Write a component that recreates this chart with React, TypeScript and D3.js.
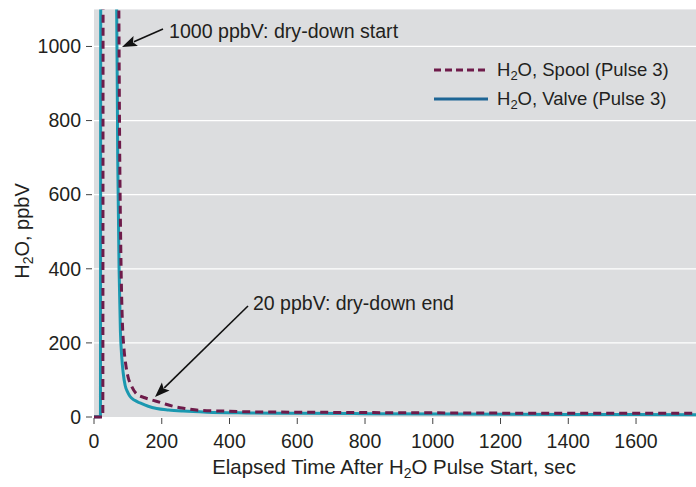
import React from "react";
import * as d3 from "d3";

const xTicks = [0, 200, 400, 600, 800, 1000, 1200, 1400, 1600];
const yTicks = [0, 200, 400, 600, 800, 1000];

const valveTime = [0, 19, 20, 66, 70, 74, 78, 82, 86, 92, 100, 106, 120, 136, 160, 185, 220, 263, 333, 450, 600, 800, 1050, 1400, 1777];
const valveH2O = [1, 1, 1200, 1200, 700, 400, 230, 160, 120, 85, 66, 56, 45, 38, 29, 23, 19, 16, 13, 11, 10, 9, 8, 7, 6];

const spoolTime = [0, 26, 27, 72, 76, 80, 84, 88, 94, 100, 110, 126, 150, 175, 200, 233, 270, 313, 380, 450, 600, 800, 1050, 1400, 1777];
const spoolH2O = [0, 0, 1200, 1200, 700, 400, 250, 190, 140, 110, 85, 62, 52, 45, 38, 29, 23, 18, 16, 14, 13, 12, 11, 10, 10];

const W = 696;
const H = 487;
const L = 94, R = 696, T = 9.4, B = 417;
const FONT = "'Liberation Sans', Arial, Helvetica, sans-serif";
const TXT = "#231f20";

function H2O({ sub = 13 }: { sub?: number }) {
  return (
    <>
      H<tspan fontSize={sub} dy={4}>2</tspan><tspan dy={-4}>O</tspan>
    </>
  );
}

export default function App() {
  const x = d3.scaleLinear().domain([0, 1777]).range([L, R]);
  const y = d3.scaleLinear().domain([0, 1100]).range([B, T]);
  const line = d3
    .line<[number, number]>()
    .x((d) => x(d[0]))
    .y((d) => y(d[1]))
    .curve(d3.curveMonotoneX);
  const valvePts = valveTime.map((t, i) => [t, valveH2O[i]] as [number, number]);
  const spoolPts = spoolTime.map((t, i) => [t, spoolH2O[i]] as [number, number]);

  const arrow = (x1: number, y1: number, x2: number, y2: number) => {
    const a = Math.atan2(y2 - y1, x2 - x1);
    const len = 15, w = 5.5;
    const bx = x2 - len * Math.cos(a), by = y2 - len * Math.sin(a);
    const px = -Math.sin(a) * w, py = Math.cos(a) * w;
    return (
      <g>
        <line x1={x1} y1={y1} x2={bx + 2 * Math.cos(a)} y2={by + 2 * Math.sin(a)} stroke="#111" strokeWidth={1.6} />
        <path d={`M${x2},${y2}L${bx + px},${by + py}L${bx + 3 * Math.cos(a)},${by + 3 * Math.sin(a)}L${bx - px},${by - py}Z`} fill="#111" />
      </g>
    );
  };

  return (
    <svg width={W} height={H} style={{ position: "absolute", left: 0, top: 0, background: "#fff" }} fontFamily={FONT}>
      <defs>
        <clipPath id="plotclip">
          <rect x={L} y={T} width={R - L} height={B - T + 2} />
        </clipPath>
      </defs>
      <rect x={L} y={T} width={R - L} height={B - T} fill="#dcdddf" />
      {yTicks.filter((v) => v > 0).map((v) => (
        <line key={v} x1={L} x2={R} y1={y(v)} y2={y(v)} stroke="#fff" strokeWidth={1.2} />
      ))}
      {yTicks.map((v) => (
        <g key={"yt" + v}>
          <line x1={86} x2={92} y1={y(v)} y2={y(v)} stroke="#444" strokeWidth={1} />
          <text x={81} y={y(v)} dy="0.35em" textAnchor="end" fontSize={19.5} fill={TXT}>{v}</text>
        </g>
      ))}
      {xTicks.map((v) => (
        <g key={"xt" + v}>
          <line x1={x(v)} x2={x(v)} y1={418} y2={424} stroke="#444" strokeWidth={1} />
          <text x={x(v)} y={448} textAnchor="middle" fontSize={19.5} fill={TXT}>{v}</text>
        </g>
      ))}
      <g clipPath="url(#plotclip)">
        <path d={line(valvePts) || ""} fill="none" stroke="#1b98b0" strokeWidth={3} />
        <path d={line(spoolPts) || ""} fill="none" stroke="#6e1b4a" strokeWidth={3} strokeDasharray="8,5" />
      </g>
      {arrow(163, 29, 122, 47)}
      {arrow(248, 306, 155, 397)}
      <text x={169} y={38} fontSize={19.6} fill={TXT}>1000 ppbV: dry-down start</text>
      <text x={253} y={310} fontSize={19.5} fill={TXT}>20 ppbV: dry-down end</text>
      <line x1={434} x2={488} y1={70} y2={70} stroke="#6e1b4a" strokeWidth={3} strokeDasharray="7,4" />
      <text x={497} y={76} fontSize={18.5} fill={TXT}><H2O sub={13} />, Spool (Pulse 3)</text>
      <line x1={434} x2={488} y1={99} y2={99} stroke="#1d6595" strokeWidth={3} />
      <text x={497} y={105} fontSize={18.5} fill={TXT}><H2O sub={13} />, Valve (Pulse 3)</text>
      <text x={394} y={474} textAnchor="middle" fontSize={20.4} fill={TXT}>
        Elapsed Time After <H2O sub={14} /> Pulse Start, sec
      </text>
      <text transform="translate(29,231) rotate(-90)" textAnchor="middle" fontSize={20} fill={TXT}>
        <H2O sub={14} />, ppbV
      </text>
    </svg>
  );
}
